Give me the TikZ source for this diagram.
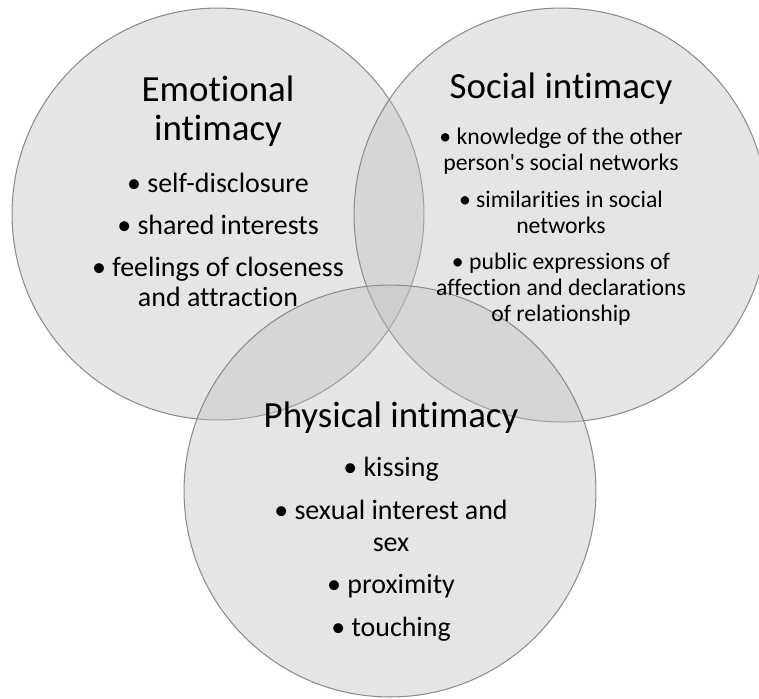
\documentclass[tikz,border=0pt]{standalone}
\usepackage{fontspec}
\setmainfont{Carlito}[Ligatures={TeXOff,NoCommon,NoContextual,NoRequired},Contextuals=NoAlternate]
\usepackage{tikz}
\definecolor{ring}{RGB}{140,140,140}
\definecolor{disc}{RGB}{191,191,191}
\tikzset{
  venn/.style={
    circle, draw=ring, line width=0.6pt, fill=disc, fill opacity=0.4,
    inner sep=0pt
  },
  head/.style={
    align=center, inner sep=0pt, anchor=north,
    font=\fontsize{21}{22.1}\selectfont
  },
  items/.style={
    align=center, inner sep=0pt, anchor=north,
    font=\fontsize{15.9}{17}\selectfont
  },
  small/.style={items, font=\fontsize{13.5}{14.7}\selectfont}
}

\begin{document}
\begin{tikzpicture}[x=0.02cm, y=-0.02cm]
\useasboundingbox (0,0) rectangle (759,698);
% the three discs
\node[venn, minimum size=8.24cm] (emo) at (218,214) {};
\node[venn, minimum size=8.28cm] (soc) at (561,215) {};
\node[venn, minimum size=8.24cm] (phy) at (390,491) {};
% emotional
\node[head] (emoT) at (218,76) {Emotional\\intimacy};
\node[items] (emoL) at (218,173) {• self-disclosure\\[6.8pt]
  • shared interests\\[6.8pt]
  • feelings of closeness\\and attraction};
% social
\node[head] (socT) at (561,73) {Social intimacy};
\node[small] (socL) at (561,128) {• knowledge of the other\\person's social networks\\[6.2pt]
  • similarities in social\\networks\\[6.2pt]
  • public expressions of\\affection and declarations\\of relationship};
% physical
\node[head] (phyT) at (391,402) {Physical intimacy};
\node[items, font=\fontsize{15.9}{18.1}\selectfont] (phyL) at (391,457) {• kissing\\[6.2pt]
  • sexual interest and\\sex\\[6.2pt]
  • proximity\\[6.2pt]
  • touching};
\end{tikzpicture}
\end{document}
